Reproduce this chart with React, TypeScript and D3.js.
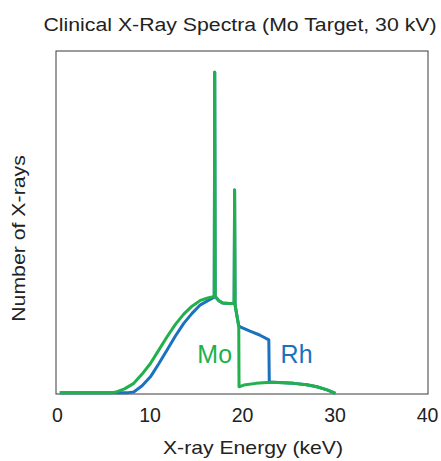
import React, { useEffect, useRef } from "react"
import * as d3 from "d3"

const WIDTH = 441
const HEIGHT = 461
const FONT = "'Liberation Sans', Arial, Helvetica, sans-serif"

const TITLE = "Clinical X-Ray Spectra (Mo Target, 30 kV)"
const X_LABEL = "X-ray Energy (keV)"
const Y_LABEL = "Number of X-rays"
const X_TICKS = [0, 10, 20, 30, 40]

// Mo filter spectrum (green): energy keV, relative counts
const moEnergy = [
  0.3, 6.0, 6.5, 7.3, 8.3, 9.2, 10.1, 11.0, 11.9, 12.8, 13.7, 14.6, 15.5, 16.3, 17.0,
  17.05, 17.1, 17.5, 17.9, 18.6, 19.15, 19.2, 19.25, 19.47, 19.65, 19.68,
  20.2, 21.5, 23.1, 24.5, 25.6, 27.0, 28.1, 29.2, 30.1,
]
const moCounts = [
  0.4, 0.4, 0.7, 1.5, 3.1, 5.8, 8.9, 12.8, 16.7, 20.3, 23.3, 25.6, 27.3, 28.0, 28.4,
  93.8, 28.4, 27.2, 26.5, 26.4, 26.4, 59.5, 26.0, 22.5, 19.6, 2.1,
  2.6, 3.1, 3.4, 3.3, 3.1, 2.7, 2.1, 1.2, 0.2,
]

// Rh filter spectrum (blue)
const rhEnergy = [
  0.3, 7.0, 7.7, 8.3, 9.2, 10.1, 11.0, 11.9, 12.8, 13.7, 14.6, 15.5, 16.3, 17.0,
  17.05, 17.1, 17.5, 17.9, 18.6, 19.15, 19.2, 19.25, 19.47, 19.65, 19.8,
  20.8, 21.9, 22.9, 22.95, 24.5, 25.6, 27.0, 28.1, 29.2, 30.1,
]
const rhCounts = [
  0.4, 0.4, 0.4, 0.6, 2.4, 5.0, 8.8, 12.8, 16.9, 20.6, 23.5, 26.0, 27.2, 28.2,
  93.8, 28.4, 27.2, 26.5, 26.4, 26.4, 59.5, 26.0, 22.5, 19.9, 19.6,
  18.4, 17.2, 15.8, 3.5, 3.3, 3.1, 2.7, 2.1, 1.2, 0.2,
]

const MO_COLOR = "#21b04b"
const RH_COLOR = "#1a72be"
const TEXT_COLOR = "#222"

const App = () => {
  const svgRef = useRef<SVGSVGElement | null>(null)

  useEffect(() => {
    const svg = d3.select(svgRef.current)
    svg.selectAll("*").remove()

    const margin = { top: 51, right: 14, bottom: 67, left: 57 }
    const innerW = WIDTH - margin.left - margin.right
    const innerH = HEIGHT - margin.top - margin.bottom

    const x = d3.scaleLinear().domain([0, 40]).range([margin.left, margin.left + innerW])
    const y = d3.scaleLinear().domain([0, 100]).range([margin.top + innerH, margin.top])

    svg.append("rect")
      .attr("x", x(0) - 1)
      .attr("y", y(100))
      .attr("width", x(40) - x(0) + 2)
      .attr("height", y(0) - y(100))
      .attr("fill", "none")
      .attr("stroke", "#3a3a3a")
      .attr("stroke-width", 1)

    const xAxis = d3.axisBottom(x).tickValues(X_TICKS).tickSize(0).tickPadding(14)
    const gx = svg.append("g")
      .attr("transform", `translate(0,${y(0)})`)
      .call(xAxis)
    gx.select(".domain").remove()
    gx.selectAll("text")
      .style("font-family", FONT)
      .style("font-size", "19.5px")
      .style("fill", TEXT_COLOR)

    const line = d3.line<[number, number]>()
      .x((d) => x(d[0]))
      .y((d) => y(d[1]))
      .curve(d3.curveLinear)

    const rh = rhEnergy.map((e, i) => [e, rhCounts[i]] as [number, number])
    const mo = moEnergy.map((e, i) => [e, moCounts[i]] as [number, number])

    svg.append("path")
      .datum(rh)
      .attr("fill", "none")
      .attr("stroke", RH_COLOR)
      .attr("stroke-width", 3)
      .attr("stroke-linejoin", "round")
      .attr("d", line)

    svg.append("path")
      .datum(mo)
      .attr("fill", "none")
      .attr("stroke", MO_COLOR)
      .attr("stroke-width", 3)
      .attr("stroke-linejoin", "round")
      .attr("d", line)

    // series labels inside the plot
    svg.append("text")
      .attr("x", x(17.05))
      .attr("y", 363)
      .attr("text-anchor", "middle")
      .style("font-family", FONT)
      .style("font-size", "25px")
      .style("fill", MO_COLOR)
      .text("Mo")

    svg.append("text")
      .attr("x", x(25.9))
      .attr("y", 363)
      .attr("text-anchor", "middle")
      .style("font-family", FONT)
      .style("font-size", "25px")
      .style("fill", RH_COLOR)
      .text("Rh")

    // the labels in the original are set slightly wide, hence the x stretch
    svg.append("text")
      .attr("transform", "translate(240,31) scale(1.12,1)")
      .attr("text-anchor", "middle")
      .style("font-family", FONT)
      .style("font-size", "19px")
      .style("fill", TEXT_COLOR)
      .text(TITLE)

    svg.append("text")
      .attr("transform", "translate(253,454) scale(1.115,1)")
      .attr("text-anchor", "middle")
      .style("font-family", FONT)
      .style("font-size", "19px")
      .style("fill", TEXT_COLOR)
      .text(X_LABEL)

    svg.append("text")
      .attr("transform", "translate(25,238.5) rotate(-90) scale(1.12,1)")
      .attr("text-anchor", "middle")
      .style("font-family", FONT)
      .style("font-size", "19px")
      .style("fill", TEXT_COLOR)
      .text(Y_LABEL)
  }, [])

  return (
    <svg
      ref={svgRef}
      width={WIDTH}
      height={HEIGHT}
      style={{ position: "absolute", left: 0, top: 0, background: "#fff" }}
    ></svg>
  )
}

export default App
